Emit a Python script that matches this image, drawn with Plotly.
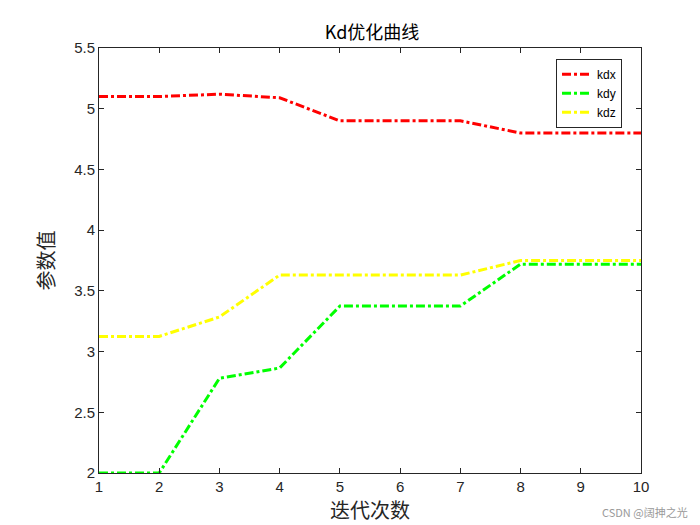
import plotly.graph_objects as go

iters = [1, 2, 3, 4, 5, 6, 7, 8, 9, 10]
kdx = [5.10, 5.10, 5.12, 5.09, 4.90, 4.90, 4.90, 4.80, 4.80, 4.80]
kdy = [2.00, 2.00, 2.78, 2.865, 3.375, 3.375, 3.375, 3.72, 3.72, 3.72]
kdz = [3.125, 3.125, 3.285, 3.63, 3.63, 3.63, 3.63, 3.75, 3.75, 3.75]

fig = go.Figure()
for name, vals, col in [("kdx", kdx, "#ff0000"), ("kdy", kdy, "#00ff00"), ("kdz", kdz, "#ffff00")]:
    fig.add_trace(go.Scatter(x=iters, y=vals, name=name, mode="lines",
                             line=dict(color=col, width=3, dash="dashdot")))

axis = dict(showgrid=False, zeroline=False, showline=True, linecolor="#262626", linewidth=1,
            mirror="ticks", ticks="inside", ticklen=5, tickcolor="#262626", automargin=False,
            tickfont=dict(family="Liberation Sans, Arial", size=15, color="#262626"))
fig.update_layout(
    width=700, height=525, paper_bgcolor="white", plot_bgcolor="white",
    margin=dict(l=91, r=67, t=40, b=60),
    title=dict(text="Kd优化曲线", x=0.52, xanchor="center", y=0.965,
               font=dict(family="Noto Sans CJK SC", size=18, color="black")),
    xaxis=dict(axis, range=[1, 10], dtick=1,
               title=dict(text="迭代次数", font=dict(family="Noto Sans CJK SC", size=20, color="#262626"), standoff=8)),
    yaxis=dict(axis, range=[2, 5.5], dtick=0.5,
               title=dict(text="参数值", font=dict(family="Noto Sans CJK SC", size=20, color="#262626"), standoff=14)),
    legend=dict(x=0.965, y=0.975, xanchor="right", yanchor="top", bgcolor="white",
                bordercolor="#262626", borderwidth=1,
                font=dict(family="Liberation Sans, Arial", size=12, color="black")),
    showlegend=True,
)
fig.add_annotation(text="CSDN @阔抻之光", xref="paper", yref="paper", x=1.09, y=-0.115,
                   xanchor="right", showarrow=False,
                   font=dict(family="Noto Sans CJK SC", size=11, color="#999999"))
fig.write_html("out.html")
